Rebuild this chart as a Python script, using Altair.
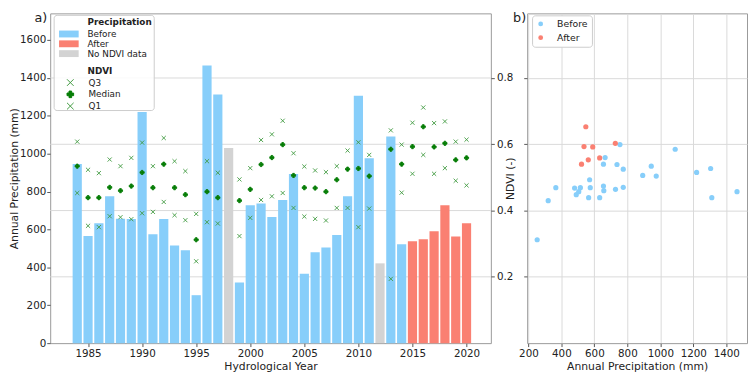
import altair as alt
import pandas as pd

# ---------------- data ----------------
years = list(range(1984, 2021))
precip = [945, 565, 632, 775, 657, 655, 1220, 575, 655, 515, 490, 253, 1465, 1312,
          1030, 320, 728, 737, 665, 755, 893, 366, 480, 505, 571, 775, 1305, 975,
          421, 1090, 522, 537, 548, 590, 727, 563, 632]
ndvi_q3 = [0.608, 0.523, 0.513, 0.554, 0.534, 0.559, 0.605, 0.534, 0.619, 0.549, 0.519,
           0.390, 0.549, 0.514, None, 0.494, 0.528, 0.613, 0.630, 0.671, 0.573, 0.533,
           0.521, 0.516, 0.534, 0.581, 0.606, 0.568, None, 0.642, 0.599, 0.665, 0.711,
           0.664, 0.669, 0.608, 0.614]
ndvi_med = [0.534, 0.439, 0.439, 0.470, 0.460, 0.474, 0.515, 0.469, 0.540, 0.469, 0.448,
            0.312, 0.457, 0.439, None, 0.430, 0.464, 0.539, 0.560, 0.599, 0.506, 0.469,
            0.468, 0.457, 0.493, 0.525, 0.527, 0.504, None, 0.585, 0.540, 0.593, 0.653,
            0.592, 0.603, 0.553, 0.559]
ndvi_q1 = [0.453, 0.354, 0.350, 0.383, 0.380, 0.374, 0.392, 0.396, 0.426, 0.386, 0.371,
           0.247, 0.365, 0.361, None, 0.323, 0.378, 0.432, 0.443, 0.453, 0.408, 0.382,
           0.375, 0.370, 0.408, 0.408, 0.350, 0.406, None, 0.194, 0.454, 0.511, 0.568,
           0.511, 0.528, 0.490, 0.476]
no_ndvi_years = [1998, 2012]
bar_after_from = 2015
scatter_after_from = 2014

precip_cats = ["Before", "After", "No NDVI data"]
precip_colors = ["#87CEFA", "#FA8072", "#D3D3D3"]
stats = ["Q3", "Median", "Q1"]
year_ticks = [1985, 1990, 1995, 2000, 2005, 2010, 2015, 2020]
precip_ticks = [0, 200, 400, 600, 800, 1000, 1200, 1400, 1600]
ndvi_ticks = [0.2, 0.4, 0.6, 0.8]
pb_ticks = [200, 400, 600, 800, 1000, 1200, 1400]

# ---------------- tables ----------------
bar_df = pd.DataFrame({
    "year": years,
    "precip": precip,
    "cat": ["No NDVI data" if y in no_ndvi_years else ("After" if y >= bar_after_from else "Before")
            for y in years],
})
rows = []
for y, q3, m, q1 in zip(years, ndvi_q3, ndvi_med, ndvi_q1):
    if m is None:
        continue
    rows.append({"year": y, "stat": "Q3", "ndvi": q3})
    rows.append({"year": y, "stat": "Median", "ndvi": m})
    rows.append({"year": y, "stat": "Q1", "ndvi": q1})
ndvi_df = pd.DataFrame(rows)
sc_rows = []
for y, p, m in zip(years, precip, ndvi_med):
    if m is None:
        continue
    sc_rows.append({"year": y, "precip": p, "ndvi": m,
                    "period": "After" if y >= scatter_after_from else "Before"})
sc_df = pd.DataFrame(sc_rows)
grid_df = pd.DataFrame({"v": ndvi_ticks})

# ---------------- layout ----------------
H = 336
WA = 449
WB = 224
FONT = "DejaVu Sans"
TXT = "#222222"
GRID = "#d9d9d9"

xscale = alt.Scale(domain=[1981.5, 2022.25], nice=False, zero=False)
xaxis = alt.Axis(values=year_ticks, format="d", title="Hydrological Year", grid=False)
ndvi_scale = alt.Scale(domain=[0, 0.995], nice=False, zero=False)

XPATH = "M-1,-1L1,1M-1,1L1,-1"
RECTPATH = "M-2,-0.7H2V0.7H-2Z"

# NDVI grid (twin axis) drawn beneath the bars
grid_rules = alt.Chart(grid_df).mark_rule(color=GRID, strokeWidth=1).encode(
    y=alt.Y("v:Q", scale=ndvi_scale, axis=None)
)

legend_box = alt.Chart(pd.DataFrame({"k": [0]})).mark_rect(
    fill="white", fillOpacity=0.85, stroke="#cccccc", strokeWidth=1, cornerRadius=3
).encode(x=alt.value(4), x2=alt.value(106), y=alt.value(2), y2=alt.value(99))

bars = alt.Chart(bar_df).transform_calculate(
    x0="datum.year - 0.425", x1="datum.year + 0.425"
).mark_bar().encode(
    x=alt.X("x0:Q", scale=xscale, axis=xaxis),
    x2="x1:Q",
    y=alt.Y("precip:Q", stack=None, scale=alt.Scale(domain=[0, 1740], nice=False),
            axis=alt.Axis(values=precip_ticks, format="d", title="Annual Precipitation (mm)",
                          grid=False, titlePadding=0, labelPadding=1)),
    y2=alt.datum(0),
    color=alt.Color("cat:N", scale=alt.Scale(domain=precip_cats, range=precip_colors),
                    legend=alt.Legend(title="Precipitation", orient="none", legendX=38, legendY=5,
                                      symbolType=RECTPATH, symbolSize=100, symbolStrokeWidth=0,
                                      symbolOffset={"expr": "-24"}, labelOffset=14,
                                      rowPadding=0, titlePadding=2,
                                      titleFontSize=9, labelFontSize=9, titleFontWeight="bold")),
)

ndvi_leg = alt.Legend(title="NDVI", orient="none", legendX=38, legendY=55,
                      symbolSize=45, symbolStrokeWidth=1,
                      symbolOffset={"expr": "-22"}, labelOffset=14,
                      rowPadding=1, titlePadding=2,
                      titleFontSize=9, labelFontSize=9, titleFontWeight="bold")

pts = alt.Chart(ndvi_df).mark_point(opacity=1, strokeWidth=0.9).encode(
    x=alt.X("year:Q", scale=xscale, axis=xaxis),
    y=alt.Y("ndvi:Q", scale=ndvi_scale,
            axis=alt.Axis(orient="right", values=ndvi_ticks, labels=False, title=None,
                          grid=False, ticks=True)),
    shape=alt.Shape("stat:N", scale=alt.Scale(domain=stats, range=[XPATH, "cross", XPATH]),
                    legend=ndvi_leg),
    fill=alt.Fill("stat:N", scale=alt.Scale(domain=stats, range=["transparent", "#067d06", "transparent"]),
                  legend=ndvi_leg),
    stroke=alt.Stroke("stat:N", scale=alt.Scale(domain=stats, range=["#3f9a3f", "#067d06", "#3f9a3f"]),
                      legend=ndvi_leg),
    size=alt.Size("stat:N", scale=alt.Scale(domain=["Q1", "Q3", "Median"], range=[18, 18, 34]),
                  legend=None),
)

label_a = alt.Chart(pd.DataFrame({"t": ["a)"]})).mark_text(
    align="right", baseline="top", fontSize=13, font=FONT, color=TXT
).encode(x=alt.value(-3), y=alt.value(-1), text="t:N")

panel_a = alt.layer(grid_rules, legend_box, bars, pts, label_a).resolve_scale(
    y="independent"
).properties(width=WA, height=H)

scatter = alt.Chart(sc_df).mark_circle(size=28, opacity=1).encode(
    x=alt.X("precip:Q", scale=alt.Scale(domain=[192.4, 1525.6], nice=False, zero=False),
            axis=alt.Axis(values=pb_ticks, format="d", title="Annual Precipitation (mm)",
                          grid=True, gridColor=GRID)),
    y=alt.Y("ndvi:Q", scale=ndvi_scale,
            axis=alt.Axis(values=ndvi_ticks, format=".1f", title="NDVI (-)", grid=True,
                          gridColor=GRID, labelPadding=11, titleX=-14, titleY=H / 2,
                          titleBaseline="alphabetic", titleAngle=270)),
    color=alt.Color("period:N", scale=alt.Scale(domain=["Before", "After"],
                                                range=["#87CEFA", "#FA8072"]),
                    legend=alt.Legend(title=None, orient="none", legendX=5, legendY=2,
                                      padding=4, fillColor="white", strokeColor="#cccccc",
                                      cornerRadius=3, symbolSize=24, symbolType="circle",
                                      labelOffset=12, rowPadding=3, labelFontSize=9.5,
                                      symbolStrokeWidth=0)),
)

label_b = alt.Chart(pd.DataFrame({"t": ["b)"]})).mark_text(
    align="right", baseline="top", fontSize=13, font=FONT, color=TXT
).encode(x=alt.value(-1), y=alt.value(-1), text="t:N")

panel_b = alt.layer(scatter, label_b).properties(width=WB, height=H)

chart = alt.hconcat(panel_a, panel_b, spacing=0).resolve_scale(
    color="independent", fill="independent", stroke="independent",
    shape="independent", size="independent"
).resolve_legend(
    color="independent", fill="independent", stroke="independent",
    shape="independent", size="independent"
).properties(
    padding=0
).configure(font=FONT).configure_view(
    stroke="#999999", strokeWidth=1
).configure_axis(
    labelFont=FONT, titleFont=FONT, labelFontSize=10.5, titleFontSize=11,
    labelColor=TXT, titleColor=TXT, titleFontWeight="normal",
    tickColor="#555555", tickSize=3.5, domain=False, labelPadding=2, titlePadding=2
).configure_legend(
    labelFont=FONT, titleFont=FONT, labelColor=TXT, titleColor=TXT
)

chart.save("out.html", embed_options={"renderer": "svg", "actions": False})
